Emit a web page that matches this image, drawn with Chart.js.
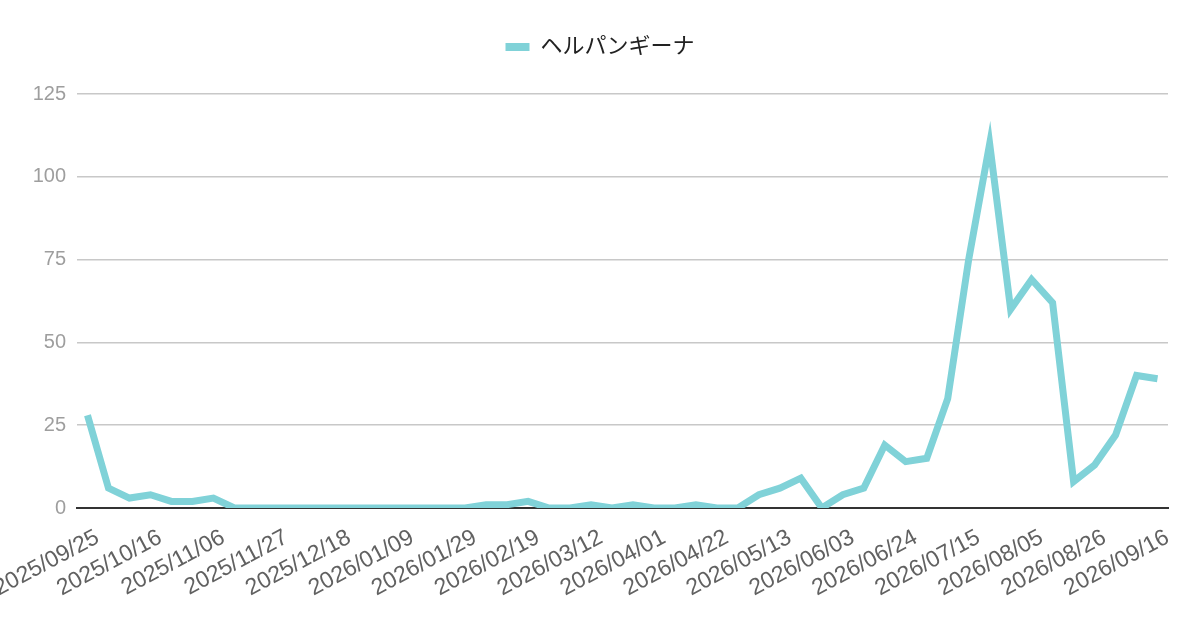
<!DOCTYPE html>
<html>
<head>
<meta charset="utf-8">
<script src="https://cdn.jsdelivr.net/npm/chart.js@4/dist/chart.umd.min.js"></script>
<style>
  html, body { margin: 0; padding: 0; background: #fff; }
  #wrap { width: 1200px; height: 626px; }
</style>
</head>
<body>
<div id="wrap"><canvas id="trend"></canvas></div>
<script>
// weekly report dates (every 3rd one is shown on the axis)
const dates = [
  '2025/09/25', '2025/10/02', '2025/10/09', '2025/10/16', '2025/10/23', '2025/10/30',
  '2025/11/06', '2025/11/13', '2025/11/20', '2025/11/27', '2025/12/04', '2025/12/11',
  '2025/12/18', '2025/12/25', '2026/01/02', '2026/01/09', '2026/01/15', '2026/01/22',
  '2026/01/29', '2026/02/05', '2026/02/12', '2026/02/19', '2026/02/26', '2026/03/05',
  '2026/03/12', '2026/03/19', '2026/03/25', '2026/04/01', '2026/04/08', '2026/04/15',
  '2026/04/22', '2026/04/29', '2026/05/06', '2026/05/13', '2026/05/20', '2026/05/27',
  '2026/06/03', '2026/06/10', '2026/06/17', '2026/06/24', '2026/07/01', '2026/07/08',
  '2026/07/15', '2026/07/22', '2026/07/29', '2026/08/05', '2026/08/12', '2026/08/19',
  '2026/08/26', '2026/09/02', '2026/09/09', '2026/09/16'
];
const seriesName = 'ヘルパンギーナ';
const counts = [
  28, 6, 3, 4, 2, 2, 3, 0, 0, 0, 0, 0,
  0, 0, 0, 0, 0, 0, 0, 1, 1, 2, 0, 0,
  1, 0, 1, 0, 0, 1, 0, 0, 4, 6, 9, 0,
  4, 6, 19, 14, 15, 33, 75, 110, 60, 69, 62, 8,
  13, 22, 40, 39
];
const yTicks = [0, 25, 50, 75, 100, 125];

const lineColor = '#80d2d8';

// extra room between the legend and the plot area
const legendGap = {
  id: 'legendGap',
  beforeInit(chart) {
    const fit = chart.legend.fit;
    chart.legend.fit = function () {
      fit.bind(chart.legend)();
      this.height += 26;
    };
  }
};

new Chart(document.getElementById('trend'), {
  type: 'line',
  data: {
    labels: dates,
    datasets: [{
      label: seriesName,
      data: counts,
      borderColor: lineColor,
      backgroundColor: lineColor,
      borderWidth: 7,
      pointRadius: 0,
      pointHoverRadius: 0,
      tension: 0,
      fill: false
    }]
  },
  options: {
    responsive: true,
    maintainAspectRatio: false,
    animation: false,
    layout: {
      padding: { top: 4, left: 0, right: 0, bottom: 0 }
    },
    plugins: {
      legend: {
        position: 'top',
        labels: {
          boxWidth: 24,
          boxHeight: 8,
          padding: 32,
          color: '#222',
          font: { family: '"Liberation Sans", "Noto Sans CJK JP", sans-serif', size: 22 },
          // flat box, no outline from the thick line
          generateLabels: function (chart) {
            return Chart.defaults.plugins.legend.labels.generateLabels(chart)
              .map(item => Object.assign(item, { lineWidth: 0 }));
          }
        }
      },
      tooltip: { enabled: false }
    },
    scales: {
      x: {
        offset: true,
        grid: { display: false, drawTicks: false },
        border: { display: true, color: '#333', width: 2 },
        ticks: {
          autoSkip: false,
          minRotation: 28,
          maxRotation: 28,
          padding: 16,
          labelOffset: 10,
          color: '#616161',
          font: { family: '"Liberation Sans", sans-serif', size: 23 },
          callback: function (val, i) {
            return i % 3 === 0 ? dates[i] : '';
          }
        },
        afterFit: function (scale) {
          scale.paddingLeft = 0;
          scale.paddingRight = 32;
          scale.height = 118;
        }
      },
      y: {
        min: 0,
        max: 125,
        grid: { color: '#c8c8c8', lineWidth: 1.5, drawTicks: false },
        border: { display: false },
        afterBuildTicks: function (scale) {
          scale.ticks = yTicks.map(v => ({ value: v }));
        },
        ticks: {
          padding: 11,
          color: '#9e9e9e',
          font: { family: '"Liberation Sans", sans-serif', size: 20 }
        },
        afterFit: function (scale) {
          scale.width = 77;
        }
      }
    }
  },
  plugins: [legendGap]
});
</script>
</body>
</html>
